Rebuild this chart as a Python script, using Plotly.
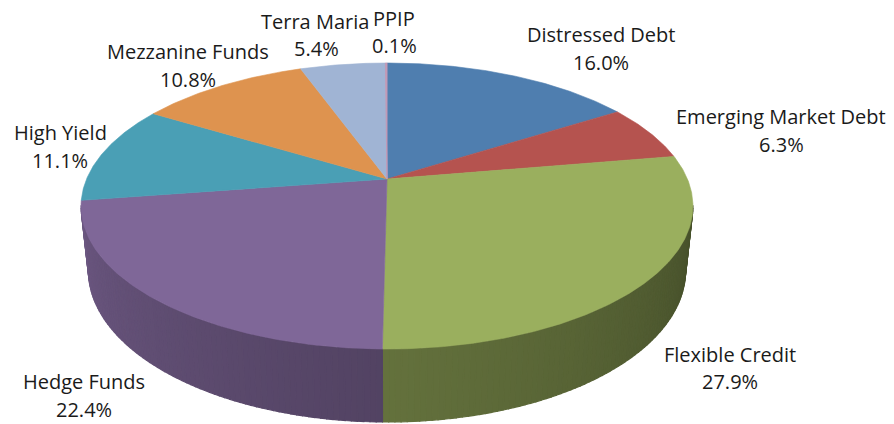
import numpy as np
import plotly.graph_objects as go

# ---------------- data ----------------
categories = ["Distressed Debt", "Emerging Market Debt", "Flexible Credit", "Hedge Funds",
              "High Yield", "Mezzanine Funds", "Terra Maria", "PPIP"]
shares = [16.0, 6.3, 27.9, 22.4, 11.1, 10.8, 5.4, 0.1]
pct_labels = ["16.0%", "6.3%", "27.9%", "22.4%", "11.1%", "10.8%", "5.4%", "0.1%"]

# ---------------- style / layout ----------------
colors = ["#4F7EAF", "#B5534F", "#9AAF5E", "#7F6798", "#4A9FB5", "#DE934F", "#A0B4D4", "#C19AB7"]
# label anchor positions (pixel space): (name_x, name_y, pct_x, pct_y)
label_pos = [(601, 34, 601, 62), (781, 116, 781, 144), (730, 354, 730, 381),
             (84, 381, 84, 409), (60, 132, 60, 160), (188, 51, 188, 79),
             (315, 21, 316, 48), (394, 18, 394, 45)]

W, H = 894, 424
CX, CY = 387.0, 179.0
SIN_A, COS_A = 0.459, 0.888
D_CAM = 4.70
FOC = 1412.0
THICK = 0.2435


def project(theta_deg, depth=0.0):
    t = np.radians(theta_deg)
    X = np.sin(t)
    Z = -np.cos(t)
    Y = -depth
    den = D_CAM - Y * SIN_A - Z * COS_A
    sx = CX + FOC * X / den
    sy = CY - FOC * (Y * COS_A - Z * SIN_A) / den
    return sx, sy


def shade(hex_color, f):
    h = hex_color.lstrip("#")
    r, g, b = (int(h[i:i + 2], 16) for i in (0, 2, 4))
    return "rgb(%d,%d,%d)" % (r * f, g * f, b * f)


total = float(sum(shares))
bounds = np.concatenate([[0.0], np.cumsum(shares) / total * 360.0])

# visible side range (front half between silhouette tangent points)
z_min = min(COS_A / D_CAM, COS_A / (D_CAM + THICK * SIN_A))
th_r = np.degrees(np.arccos(-z_min))
th_l = 360.0 - th_r

fig = go.Figure()

# sides
for i, cat in enumerate(categories):
    a, b = bounds[i], bounds[i + 1]
    lo, hi = max(a, th_r), min(b, th_l)
    if hi <= lo:
        continue
    n = max(1, int(np.ceil((hi - lo) / 1.0)))
    edges = np.linspace(lo, hi, n + 1)
    for j in range(n):
        t0, t1 = edges[j], edges[j + 1]
        ts = np.linspace(t0, t1, 3)
        tx, ty = project(ts)
        bx, by = project(ts[::-1], THICK)
        mid = 0.5 * (t0 + t1)
        f = 0.45 + (mid - 100.0) / 160.0 * 0.40
        f = float(np.clip(f, 0.4, 0.9))
        col = shade(colors[i], f)
        fig.add_trace(go.Scatter(
            x=np.concatenate([tx, bx, tx[:1]]), y=np.concatenate([ty, by, ty[:1]]),
            mode="lines", fill="toself", fillcolor=col,
            line=dict(color=col, width=1.2), hoverinfo="skip", showlegend=False))

# top faces
for i, cat in enumerate(categories):
    a, b = bounds[i], bounds[i + 1]
    n = max(3, int(np.ceil((b - a) / 0.5)))
    ts = np.linspace(a, b, n + 1)
    ax_, ay_ = project(ts)
    xs = np.concatenate([[CX], ax_, [CX]])
    ys = np.concatenate([[CY], ay_, [CY]])
    fig.add_trace(go.Scatter(
        x=xs, y=ys, mode="lines", fill="toself", fillcolor=colors[i],
        line=dict(color=colors[i], width=1.0 if shares[i] < 1 else 0.6),
        name=cat, hoverinfo="name", showlegend=False))

# labels
font = dict(family="Open Sans, Lato, sans-serif", size=20, color="#1a1a1a")
for i, cat in enumerate(categories):
    nx, ny, px, py = label_pos[i]
    fig.add_annotation(x=nx, y=ny, text=cat, showarrow=False, xanchor="center",
                       yanchor="middle", font=font)
    fig.add_annotation(x=px, y=py, text=pct_labels[i], showarrow=False, xanchor="center",
                       yanchor="middle", font=font)

fig.update_layout(
    width=W, height=H, autosize=False,
    margin=dict(l=0, r=0, t=0, b=0),
    paper_bgcolor="white", plot_bgcolor="white",
    xaxis=dict(range=[0, W], visible=False, fixedrange=True),
    yaxis=dict(range=[H, 0], visible=False, fixedrange=True),
)

fig.write_html("out.html", config={"displayModeBar": False},
               post_script="document.body.style.margin='0';document.body.style.overflow='hidden';")
